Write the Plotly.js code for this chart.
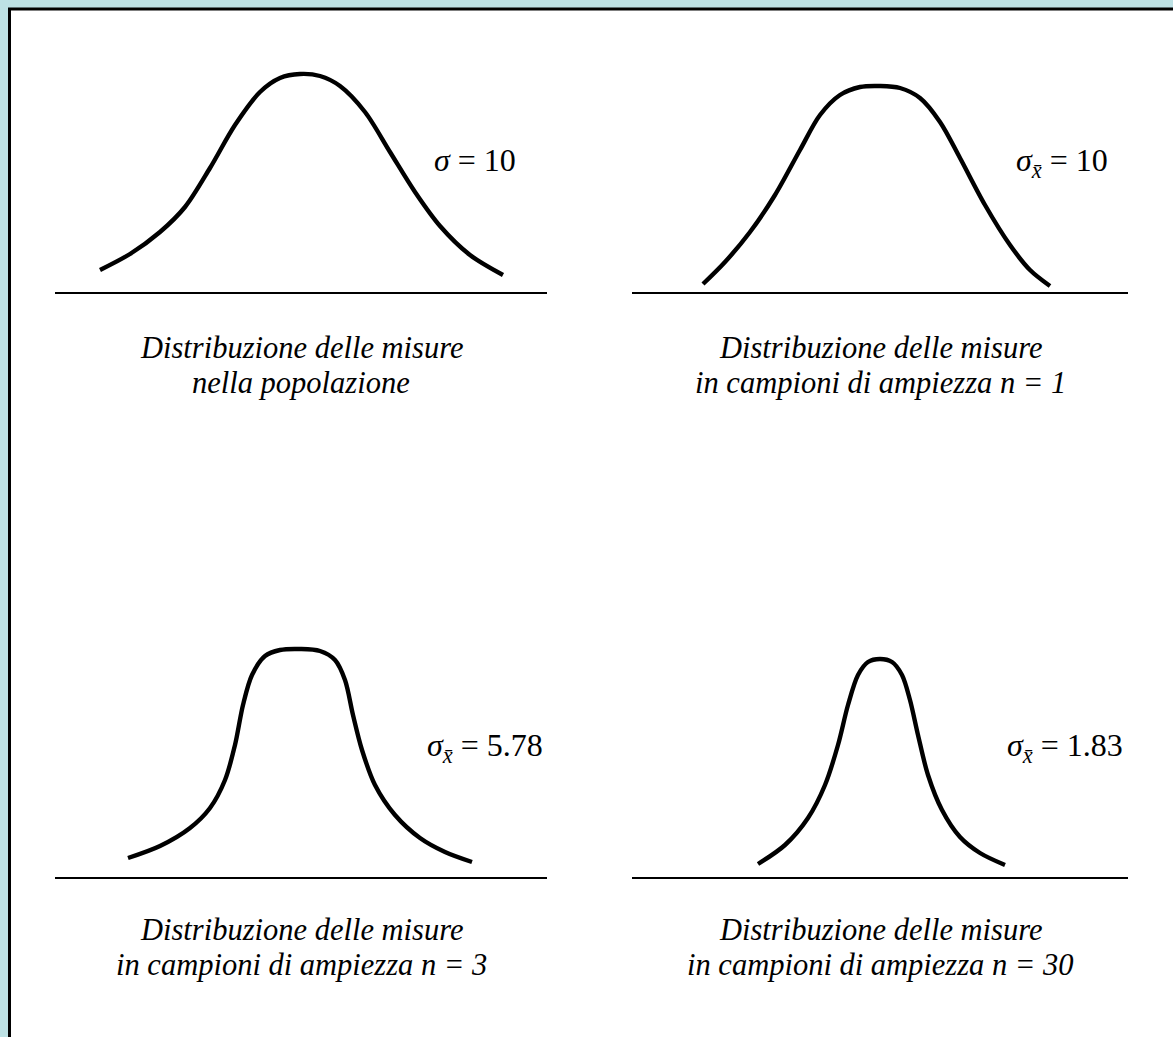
<!DOCTYPE html>
<html>
<head>
<meta charset="utf-8">
<script src="https://cdn.plot.ly/plotly-3.0.1.min.js"></script>
<style>html,body{margin:0;padding:0;background:#bde1e4;}#chart{width:1173px;height:1037px;}</style>
</head>
<body>
<div id="chart"></div>
<script>
// Curves: x = distance from the panel centre (measure units), y = height above baseline
const popX = [-20.1,-17.1,-14.1,-11.6,-9.1,-6.6,-4.1,-2.1,-0.1,1.9,3.9,6.4,8.9,11.4,13.9,16.9,20.2];
const popY = [0.22,0.38,0.60,0.85,1.24,1.67,2.00,2.14,2.18,2.16,2.06,1.80,1.40,1.00,0.66,0.37,0.17];

const n1X = [-17.7,-15.5,-13.0,-10.5,-8.0,-6.0,-4.0,-2.0,0,2.0,4.0,6.0,8.0,10.5,13.0,15.0,17.0];
const n1Y = [0.08,0.30,0.60,0.97,1.42,1.77,1.97,2.05,2.06,2.04,1.94,1.70,1.34,0.87,0.47,0.22,0.06];

const n3X = [-17.3,-14.1,-11.1,-9.1,-7.6,-6.6,-5.8,-4.9,-3.6,-2.1,-0.1,1.9,3.4,4.4,5.2,6.1,7.4,9.4,11.9,14.4,17.1];
const n3Y = [0.19,0.31,0.49,0.69,0.97,1.32,1.72,2.02,2.21,2.27,2.28,2.26,2.17,1.97,1.62,1.27,0.92,0.62,0.39,0.25,0.15];

const n30X = [-12.2,-9.5,-7.2,-5.5,-4.2,-3.2,-2.2,-1.2,0,1.2,2.2,3.0,3.8,4.8,6.2,8.0,10.0,12.5];
const n30Y = [0.13,0.32,0.59,0.92,1.32,1.72,2.02,2.15,2.18,2.15,2.02,1.77,1.42,1.02,0.67,0.40,0.24,0.12];

const sigmaLabels = ['<i>σ</i> = 10', '<i>σ</i><sub><i>x̄</i></sub> = 10', '<i>σ</i><sub><i>x̄</i></sub> = 5.78', '<i>σ</i><sub><i>x̄</i></sub> = 1.83'];
const captionLine1 = ['Distribuzione delle misure', 'Distribuzione delle misure', 'Distribuzione delle misure', 'Distribuzione delle misure'];
const captionLine2 = ['nella popolazione', 'in campioni di ampiezza n = 1', 'in campioni di ampiezza n = 3', 'in campioni di ampiezza n = 30'];

const W = 1173, H = 1037;
const panels = [
  {x: popX, y: popY, px:[55,547], py:[40,292], lw:1.6, cap:[348,383]},
  {x: n1X, y: n1Y, px:[632,1128], py:[40,292], lw:2, cap:[348,383]},
  {x: n3X, y: n3Y, px:[55,547], py:[625,877], lw:1.6, cap:[930,965]},
  {x: n30X, y: n30Y, px:[632,1128], py:[625,877], lw:2, cap:[930,965]}
];
const labelPos = [[17.4,1.32],[18.2,1.30],[18.4,1.30],[18.5,1.30]];

const traces = [];
const layout = {
  width: W, height: H,
  margin: {l:0,r:0,t:0,b:0},
  paper_bgcolor: '#bde1e4',
  plot_bgcolor: 'rgba(0,0,0,0)',
  showlegend: false,
  shapes: [{type:'rect', xref:'paper', yref:'paper',
    x0: 9.5/W, x1: 1.05, y0: -0.05, y1: 1 - 9/H,
    fillcolor:'#ffffff', line:{color:'#000000', width:3}, layer:'below'}],
  annotations: []
};

panels.forEach((p, i) => {
  const k = i === 0 ? '' : String(i+1);
  traces.push({
    x: p.x, y: p.y, type:'scatter', mode:'lines',
    line:{color:'#000000', width:4.4, shape:'spline', smoothing:0.9},
    xaxis:'x'+k, yaxis:'y'+k, hoverinfo:'skip'
  });
  const half = (p.px[1]-p.px[0])/20;
  layout['xaxis'+k] = {
    domain:[p.px[0]/W, p.px[1]/W], range:[-half, half],
    showline:true, linecolor:'#000000', linewidth:p.lw,
    showgrid:false, zeroline:false, showticklabels:false, ticks:'',
    anchor:'y'+k, fixedrange:true
  };
  layout['yaxis'+k] = {
    domain:[1 - p.py[1]/H, 1 - p.py[0]/H], range:[0, (p.py[1]-p.py[0])/100],
    showline:false, showgrid:false, zeroline:false, showticklabels:false, ticks:'',
    anchor:'x'+k, fixedrange:true
  };
  layout.annotations.push({
    xref:'x'+k, yref:'y'+k, x: labelPos[i][0], y: labelPos[i][1],
    text: sigmaLabels[i], showarrow:false, xanchor:'center', yanchor:'middle',
    font:{family:'Liberation Serif, serif', size:32, color:'#000000'}
  });
  [captionLine1[i], captionLine2[i]].forEach((t, j) => {
    layout.annotations.push({
      xref:'x'+k, yref:'paper', x: 0, y: 1 - p.cap[j]/H,
      text: t, showarrow:false, xanchor:'center', yanchor:'middle', align:'center',
      font:{family:'Liberation Serif, serif', size:30.5, color:'#000000', style:'italic'}
    });
  });
});

Plotly.newPlot('chart', traces, layout, {staticPlot:true});
</script>
</body>
</html>
